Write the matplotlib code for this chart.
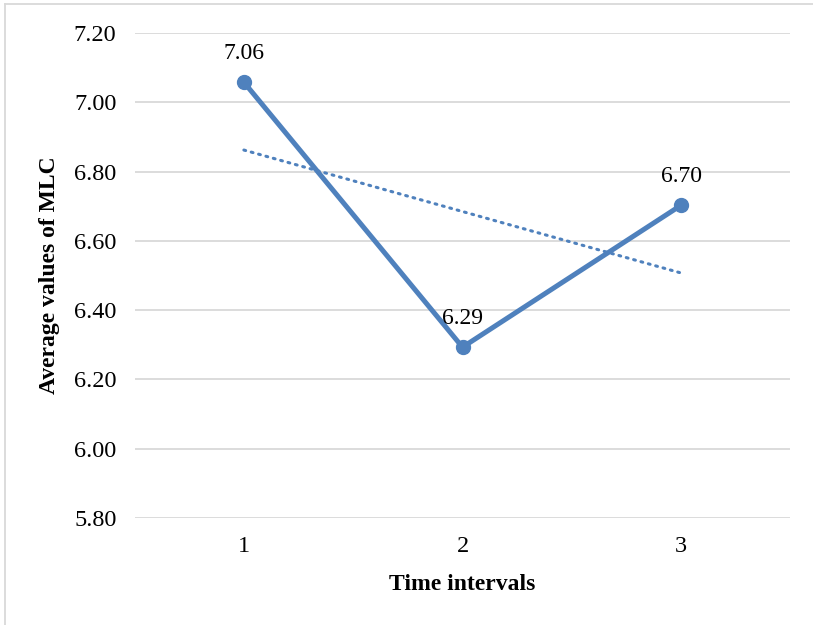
import numpy as np
import matplotlib
matplotlib.use("Agg")
import matplotlib.pyplot as plt
from matplotlib.lines import Line2D

plt.rcParams['font.family'] = ['Liberation Serif', 'DejaVu Serif']

# data
intervals = [1, 2, 3]
mlc = [7.058, 6.293, 6.703]
labels = ["7.06", "6.29", "6.70"]
yticks = [5.80, 6.00, 6.20, 6.40, 6.60, 6.80, 7.00, 7.20]

blue = "#4F81BD"

fig = plt.figure(figsize=(8.13, 6.25), dpi=100)
ax = fig.add_axes([0.1655, 0.1712, 0.8068, 0.776])

# gridlines
for t in yticks:
    ax.axhline(t, color="#D9D9D9", lw=1.3, zorder=0)

# main line
ax.plot(intervals, mlc, color=blue, lw=3.6, marker="o", markersize=10,
        solid_capstyle="round", zorder=3)

# linear trend line
k, b = np.polyfit(intervals, mlc, 1)
xt = np.array([intervals[0], intervals[-1]])
ax.plot(xt, k * xt + b, color=blue, lw=2.2, linestyle=(0, (0.6, 1.9)),
        dash_capstyle="round", zorder=2)

# data labels
for x, y, s in zip(intervals, mlc, labels):
    ax.annotate(s, (x, y), xytext=(0, 21), textcoords="offset points",
                ha="center", va="center", fontsize=17)

ax.set_xlim(0.5, 3.5)
ax.set_ylim(5.80, 7.20)
ax.set_xticks(intervals)
ax.set_yticks(yticks)
ax.set_yticklabels(["%.2f" % t for t in yticks])
ax.tick_params(length=0, labelsize=17.5)
ax.tick_params(axis="y", pad=13)
ax.tick_params(axis="x", pad=13)
for sp in ax.spines.values():
    sp.set_visible(False)

ax.set_xlabel("Time intervals", fontsize=17, fontweight="bold", labelpad=12)
ax.set_ylabel("Average values of MLC", fontsize=17, fontweight="bold", labelpad=10)

# chart border (only the left and top edges are inside the picture)
fig.lines.append(Line2D([0.006, 0.006], [0.0, 0.994], transform=fig.transFigure,
                        color="#D9D9D9", lw=1.3))
fig.lines.append(Line2D([0.006, 1.0], [0.994, 0.994], transform=fig.transFigure,
                        color="#D9D9D9", lw=1.3))

fig.savefig("out.png", dpi=100)
